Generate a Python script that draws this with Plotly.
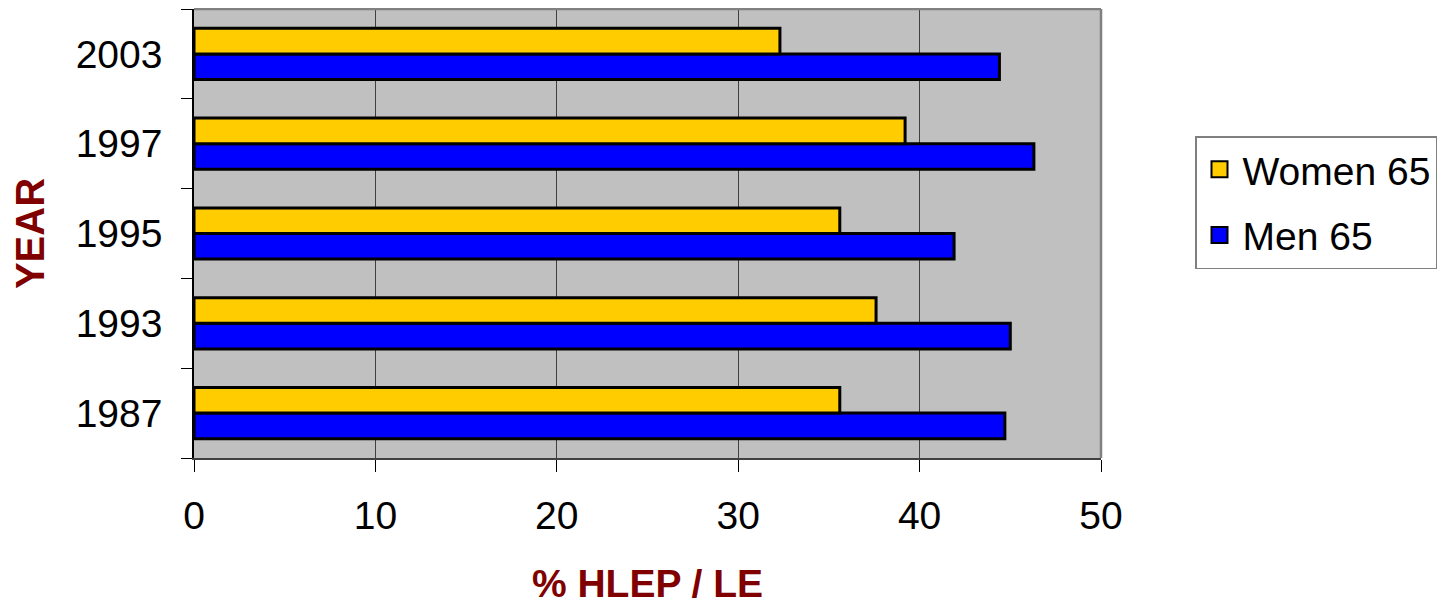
import plotly.graph_objects as go

years = ["1987", "1993", "1995", "1997", "2003"]
women_65 = [35.6, 37.6, 35.6, 39.2, 32.3]
men_65 = [44.7, 45.0, 41.9, 46.3, 44.4]

FONT = "Liberation Sans, Arial, sans-serif"
WOMEN_COLOR = "#FFCC00"
MEN_COLOR = "#0000FF"

fig = go.Figure()
fig.add_trace(go.Bar(
    y=years, x=men_65, name="Men 65", orientation="h", showlegend=False,
    marker=dict(color=MEN_COLOR, line=dict(color="black", width=3)),
))
fig.add_trace(go.Bar(
    y=years, x=women_65, name="Women 65", orientation="h", showlegend=False,
    marker=dict(color=WOMEN_COLOR, line=dict(color="black", width=3)),
))
# legend entries with larger square swatches
fig.add_trace(go.Scatter(
    x=[None], y=[None], mode="markers", name="Women 65", legendgroup="women",
    marker=dict(symbol="square", size=20, color=WOMEN_COLOR, line=dict(color="black", width=2)),
))
fig.add_trace(go.Scatter(
    x=[None], y=[None], mode="markers", name="Men 65", legendgroup="men",
    marker=dict(symbol="square", size=20, color=MEN_COLOR, line=dict(color="black", width=2)),
))

# page body has an 8px margin: compensate so the plot area lands at 194..1101 x 9..458
OFF = 8
L, T = 194 - OFF, 9 - OFF
PW, PH = 907, 449
W, H = 1448, 607
R = W - L - PW
B = H - T - PH

fig.update_layout(
    width=W, height=H,
    barmode="group", bargap=0.43, bargroupgap=0,
    plot_bgcolor="#C0C0C0", paper_bgcolor="white",
    margin=dict(l=L, r=R, t=T, b=B, autoexpand=False),
    font=dict(family=FONT, size=39, color="black"),
    showlegend=True,
    legend=dict(
        traceorder="grouped", tracegroupgap=12,
        x=(1195 - 194) / PW, y=1 - (136 - 9) / PH,
        xanchor="left", yanchor="top",
        bordercolor="#808080", borderwidth=1.5, bgcolor="white",
        font=dict(size=39), itemwidth=36,
    ),
    xaxis=dict(
        range=[0, 50], dtick=10, tick0=0,
        showgrid=True, gridcolor="#404040", gridwidth=1,
        ticks="outside", ticklen=12, tickcolor="black", tickwidth=1,
        showline=True, linecolor="#404040", linewidth=1.5,
        zeroline=False, fixedrange=True,
        ticklabelstandoff=10,
        title=dict(text="<b>% HLEP / LE</b>", font=dict(size=39, color="#800000"), standoff=34),
    ),
    yaxis=dict(
        type="category", categoryorder="array", categoryarray=years,
        ticks="outside", ticklen=11, tickcolor="black", tickson="boundaries",
        showline=True, linecolor="black", linewidth=1.5,
        showgrid=False, fixedrange=True,
        ticklabelstandoff=22,
        title=dict(text="<b>YEAR</b>", font=dict(size=40, color="#800000"), standoff=22),
    ),
)

# gray frame on top and right of plot area
fig.add_shape(type="line", xref="paper", yref="paper", x0=0, x1=1, y0=1, y1=1,
              line=dict(color="#808080", width=2.5))
fig.add_shape(type="line", xref="paper", yref="paper", x0=1, x1=1, y0=0, y1=1,
              line=dict(color="#808080", width=2.5))

fig.write_html("out.html")
